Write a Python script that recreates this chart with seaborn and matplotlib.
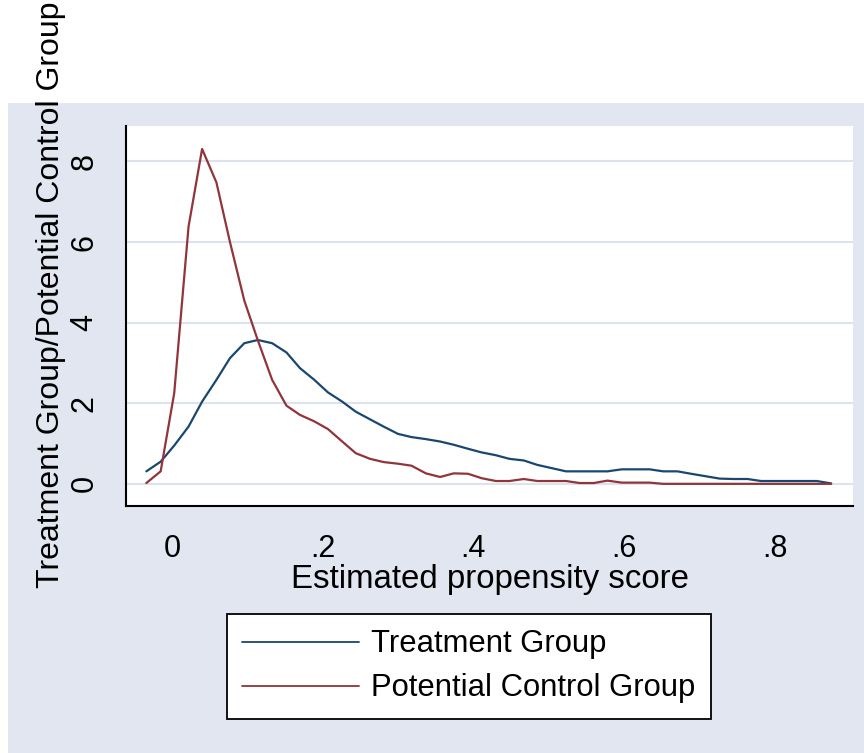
import numpy as np
import matplotlib
matplotlib.use("Agg")
import matplotlib.pyplot as plt
import pandas as pd
import seaborn as sns
from matplotlib.patches import Rectangle

# kdensity evaluation points (50 of them)
score = [-0.034, -0.015, 0.003, 0.022, 0.040, 0.059, 0.077, 0.096, 0.114, 0.133,
         0.152, 0.170, 0.189, 0.207, 0.226, 0.244, 0.263, 0.281, 0.300, 0.318,
         0.337, 0.356, 0.374, 0.393, 0.411, 0.430, 0.448, 0.467, 0.485, 0.504,
         0.523, 0.541, 0.560, 0.578, 0.597, 0.615, 0.634, 0.652, 0.671, 0.689,
         0.708, 0.727, 0.745, 0.764, 0.782, 0.801, 0.819, 0.838, 0.856, 0.875]

treatment = [0.31, 0.55, 0.95, 1.42, 2.04, 2.58, 3.12, 3.49, 3.57, 3.49,
             3.26, 2.87, 2.58, 2.27, 2.04, 1.79, 1.60, 1.42, 1.24, 1.16,
             1.11, 1.05, 0.97, 0.87, 0.78, 0.71, 0.62, 0.58, 0.47, 0.39,
             0.31, 0.31, 0.31, 0.31, 0.36, 0.36, 0.36, 0.31, 0.31, 0.25,
             0.19, 0.13, 0.12, 0.12, 0.07, 0.07, 0.07, 0.07, 0.07, 0.01]

control = [0.02, 0.31, 2.25, 6.38, 8.31, 7.48, 6.00, 4.55, 3.56, 2.58,
           1.94, 1.71, 1.55, 1.36, 1.05, 0.76, 0.62, 0.54, 0.50, 0.45,
           0.26, 0.17, 0.26, 0.25, 0.14, 0.07, 0.07, 0.12, 0.07, 0.07,
           0.07, 0.02, 0.02, 0.08, 0.03, 0.03, 0.03, 0.00, 0.00, 0.00,
           0.00, 0.00, 0.00, 0.00, 0.00, 0.00, 0.00, 0.00, 0.00, 0.00]

groups = ["Treatment Group", "Potential Control Group"]
colors = ["#1a476f", "#90353b"]
xticks = [0, 0.2, 0.4, 0.6, 0.8]
xticklabels = ["0", ".2", ".4", ".6", ".8"]
yticks = [0, 2, 4, 6, 8]

df = pd.concat([
    pd.DataFrame({"score": score, "density": treatment, "group": groups[0]}),
    pd.DataFrame({"score": score, "density": control, "group": groups[1]}),
])

sns.set_style("white")
plt.rcParams["font.family"] = ["Liberation Sans", "DejaVu Sans"]
plt.rcParams["text.color"] = "black"
plt.rcParams["axes.labelcolor"] = "black"

bg = "#e1e6f0"
fig = plt.figure(figsize=(8.64, 7.53), dpi=100, facecolor="white")
# stata-like outer region (starts a bit below the top of the image)
fig.patches.append(Rectangle((8 / 864, 0), 1, 1 - 103 / 753, transform=fig.transFigure,
                             facecolor=bg, edgecolor="none", zorder=-1))

ax = fig.add_axes([126 / 864, 1 - 506 / 753, 727 / 864, 380 / 753])
ax.set_facecolor("white")

sns.lineplot(data=df, x="score", y="density", hue="group", hue_order=groups,
             palette=colors, linewidth=1.6, errorbar=None, legend=True, ax=ax)

ax.set_xlim(-0.061, 0.904)
ax.set_ylim(-0.55, 8.88)
ax.set_xticks(xticks)
ax.set_xticklabels(xticklabels)
ax.set_yticks(yticks)
ax.set_yticklabels([str(v) for v in yticks], rotation=90, va="center")
ax.yaxis.grid(True, color="#dde3ee", linewidth=1.5)
ax.xaxis.grid(False)
ax.set_axisbelow(True)

for side in ["top", "right"]:
    ax.spines[side].set_visible(False)
for side in ["left", "bottom"]:
    ax.spines[side].set_color("black")
    ax.spines[side].set_linewidth(1.5)

ax.tick_params(axis="both", direction="out", length=11, width=1.2, color="black",
               labelsize=22, labelcolor="black")
ax.tick_params(axis="x", pad=9)
ax.tick_params(axis="y", pad=8)

ax.set_xlabel("Estimated propensity score", fontsize=23.8, labelpad=0)
ax.set_ylabel("Treatment Group/Potential Control Group", fontsize=23)
ax.yaxis.set_label_coords(-0.082, 0.555)

handles, labels = ax.get_legend_handles_labels()
ax.get_legend().remove()
leg = fig.legend(handles, labels, loc="upper left", bbox_to_anchor=(227 / 864, 1 - 614 / 753),
                 bbox_transform=fig.transFigure, borderaxespad=0, fontsize=22.3,
                 frameon=True, fancybox=False, edgecolor="black", facecolor="white",
                 framealpha=1, handlelength=3.75, handletextpad=0.4, labelspacing=0.45,
                 borderpad=0.5)
leg.get_frame().set_linewidth(1.3)
for line in leg.get_lines():
    line.set_linewidth(1.3)

fig.savefig("out.png", dpi=100, facecolor="white")
